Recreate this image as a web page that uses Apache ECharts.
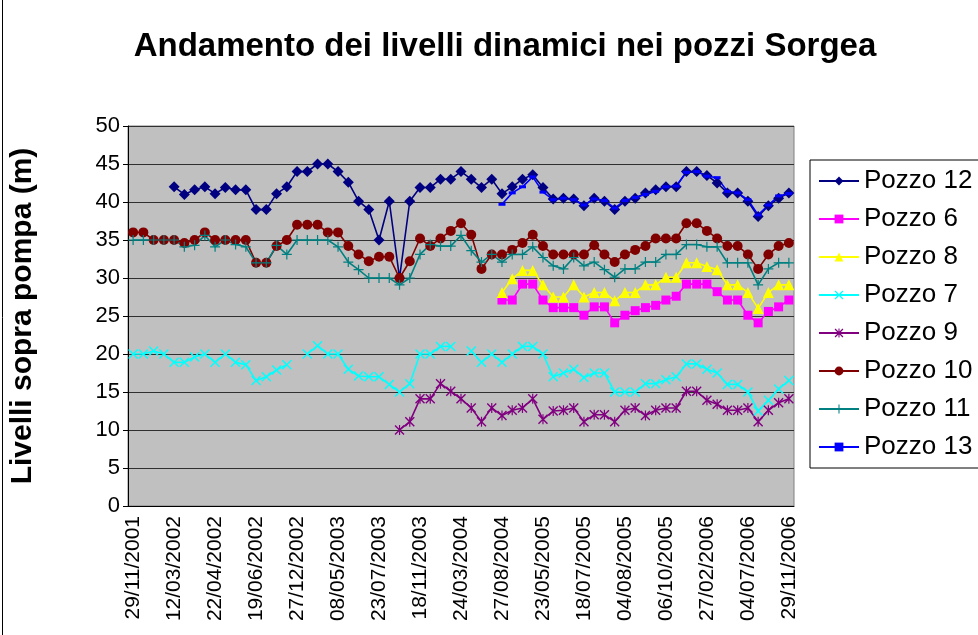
<!DOCTYPE html>
<html>
<head>
<meta charset="utf-8">
<script src="https://cdn.jsdelivr.net/npm/echarts@6/dist/echarts.min.js"></script>
<style>
	html, body { margin: 0; padding: 0; background: #fff; }
	#chart { width: 978px; height: 635px; }
</style>
</head>
<body>
<div id="chart"></div>
<script>
// date di misura (asse x)
const dates = [
	'29/11/2001', '14/12/2001', '18/01/2002', '20/02/2002', '12/03/2002', '25/03/2002', '04/04/2002', '15/04/2002',
	'22/04/2002', '08/05/2002', '22/05/2002', '05/06/2002', '19/06/2002', '17/07/2002', '25/09/2002', '30/10/2002',
	'27/12/2002', '30/01/2003', '27/02/2003', '27/03/2003', '08/05/2003', '29/05/2003', '19/06/2003', '04/07/2003',
	'23/07/2003', '06/08/2003', '10/09/2003', '20/10/2003', '18/11/2003', '16/12/2003', '20/01/2004', '24/02/2004',
	'24/03/2004', '28/04/2004', '26/05/2004', '30/06/2004', '27/08/2004', '29/10/2004', '21/12/2004', '16/03/2005',
	'23/05/2005', '09/06/2005', '23/06/2005', '05/07/2005', '18/07/2005', '22/07/2005', '26/07/2005', '29/07/2005',
	'04/08/2005', '24/08/2005', '08/09/2005', '22/09/2005', '06/10/2005', '10/11/2005', '15/12/2005', '24/01/2006',
	'27/02/2006', '28/03/2006', '27/04/2006', '30/05/2006', '04/07/2006', '28/07/2006', '06/09/2006', '18/10/2006',
	'29/11/2006'
]

const yTicks = [0, 5, 10, 15, 20, 25, 30, 35, 40, 45, 50]

const pozzo12 = [
	null, null, null, null, 42, 41, 41.6, 42, 41.1, 41.9, 41.6, 41.6, 39, 39, 41.1, 42,
	44, 44, 45, 45, 44, 42.6, 40.1, 39, 35, 40.1, 30, 40.1, 41.9, 41.9, 43, 43,
	44, 43, 41.9, 43, 41.1, 42, 43, 43.6, 41.9, 40.4, 40.5, 40.4, 39.5, 40.5, 40.1, 39,
	40.1, 40.5, 41.2, 41.6, 42, 42, 44, 44, 43.5, 42.5, 41.2, 41.2, 40.1, 38.1, 39.5, 40.5,
	41.2
]
const pozzo6 = [
	null, null, null, null, null, null, null, null, null, null, null, null, null, null, null, null,
	null, null, null, null, null, null, null, null, null, null, null, null, null, null, null, null,
	null, null, null, null, 27.1, 27.1, 29.2, 29.2, 27.1, 26.1, 26.1, 26.1, 25.1, 26.2, 26.2, 24.1,
	25.1, 25.7, 26.1, 26.4, 27.1, 27.6, 29.2, 29.2, 29.2, 28.2, 27.1, 27.1, 25.1, 24.1, 25.6, 26.2,
	27.1
]
const pozzo8 = [
	null, null, null, null, null, null, null, null, null, null, null, null, null, null, null, null,
	null, null, null, null, null, null, null, null, null, null, null, null, null, null, null, null,
	null, null, null, null, 28.1, 29.9, 31, 31, 29.1, 27.5, 27.5, 29.1, 27.5, 28.1, 28.1, 27,
	28.1, 28.1, 29.1, 29.1, 30.1, 30.1, 32, 32, 31.5, 31.1, 29.1, 29.1, 28.1, 26, 28.1, 29.1,
	29.1
]
const pozzo7 = [
	20, 20, 20.4, 20, 18.9, 18.9, 19.6, 20, 18.9, 20, 18.9, 18.6, 16.5, 17, 17.9, 18.6,
	null, 20, 21.1, 20, 20, 18, 17.1, 17, 17, 16, 15, 16.1, 20, 20, 21, 21,
	null, 20.4, 18.9, 20, 18.9, 20, 21, 21, 20, 17, 17.5, 18, 16.9, 17.5, 17.5, 15,
	15, 15, 16.1, 16.1, 16.6, 17, 18.7, 18.7, 18, 17.5, 16, 16, 15, 12.5, 13.9, 15.4,
	16.5
]
const pozzo9 = [
	null, null, null, null, null, null, null, null, null, null, null, null, null, null, null, null,
	null, null, null, null, null, null, null, null, null, null, 10, 11.1, 14.1, 14.1, 16.1, 15.1,
	14.1, 12.9, 11.1, 12.9, 11.9, 12.6, 12.9, 14.1, 11.4, 12.5, 12.6, 12.9, 11.1, 12, 12, 11.1,
	12.6, 12.9, 11.9, 12.6, 12.9, 12.9, 15.1, 15.1, 13.9, 13.4, 12.6, 12.6, 12.9, 11.1, 12.6, 13.6,
	14.1
]
const pozzo10 = [
	36, 36, 35, 35, 35, 34.6, 35, 36, 35, 35, 35, 35, 32, 32, 34.2, 35,
	37, 37, 37, 36, 36, 34.2, 33.1, 32.2, 32.8, 32.8, 30, 32.2, 35.2, 34.2, 35.2, 36.2,
	37.2, 35.7, 31.2, 33.1, 33.1, 33.7, 34.6, 35.7, 34.2, 33.1, 33.1, 33.1, 33.1, 34.3, 33.1, 32.1,
	33.1, 33.7, 34.2, 35.2, 35.2, 35.2, 37.2, 37.2, 36.2, 35.2, 34.2, 34.2, 33.1, 31.2, 33.1, 34.2,
	34.6
]
const pozzo11 = [
	35, 35, 35, 35, 35, 34.1, 34.3, 35.6, 34.1, 35, 34.4, 34.1, 32, 32, 34.3, 33.1,
	35, 35, 35, 35, 34.1, 32.1, 31.1, 30, 30, 30, 29.1, 30, 33.1, 34.4, 34.2, 34.2,
	35.6, 33.6, 32.1, 33.1, 32.1, 33.1, 33.1, 34.1, 32.7, 31.6, 31.2, 32.7, 31.6, 32.1, 31.1, 30.1,
	31.2, 31.2, 32.1, 32.1, 33.1, 33.1, 34.4, 34.4, 34.1, 34.1, 32, 32, 32, 29.1, 31.2, 32,
	32
]
const pozzo13 = [
	null, null, null, null, null, null, null, null, null, null, null, null, null, null, null, null,
	null, null, null, null, null, null, null, null, null, null, null, null, null, null, null, null,
	null, null, null, null, 39.7, 41.2, 42, 43.3, 41.3, 40.3, 40.5, 40.3, 39.6, 40.4, 40.2, 39.2,
	40.2, 40.6, 41, 41.4, 42, 42.1, 43.9, 44, 43.4, 43.2, 41.4, 41.2, 40.3, 38.3, 39.6, 40.8,
	41.1
]

// simboli tipo Excel
const symX = 'path://M0,1L1,0L5,4L9,0L10,1L6,5L10,9L9,10L5,6L1,10L0,9L4,5Z'
const symPlus = 'path://M4.4,0H5.6V4.4H10V5.6H5.6V10H4.4V5.6H0V4.4H4.4Z'
const symStar = 'path://M0,1L1,0L5,4L9,0L10,1L6,5L10,9L9,10L5,6L1,10L0,9L4,5Z M4.4,0H5.6V10H4.4Z'

const font = 'Arial, "Liberation Sans", sans-serif'

function serie(name, data, color, symbol, size) {
	return {
		type: 'line',
		name: name,
		data: data,
		symbol: symbol,
		symbolSize: size,
		showAllSymbol: true,
		connectNulls: false,
		lineStyle: { color: color, width: 1.6 },
		itemStyle: { color: color },
		emphasis: { disabled: true }
	}
}

echarts.init(document.getElementById('chart')).setOption({
	animation: false,
	backgroundColor: '#fff',
	graphic: [{
		type: 'line',
		shape: { x1: 2.5, y1: 0, x2: 2.5, y2: 635 },
		style: { stroke: '#000', lineWidth: 1 }
	}],
	title: {
		text: 'Andamento dei livelli dinamici nei pozzi Sorgea',
		left: 500,
		top: 25,
		textAlign: 'center',
		textStyle: { fontFamily: font, fontSize: 33, fontWeight: 'bold', color: '#000' }
	},
	grid: {
		left: 126,
		top: 126,
		right: 184,
		bottom: 129,
		show: true,
		backgroundColor: '#c0c0c0',
		borderColor: '#808080',
		borderWidth: 1
	},
	legend: {
		orient: 'vertical',
		left: 810,
		top: 160,
		padding: [8, 20, 8, 8],
		itemGap: 12,
		itemWidth: 40,
		itemHeight: 11,
		backgroundColor: '#fff',
		borderColor: '#000',
		borderWidth: 1,
		borderRadius: 0,
		textStyle: { fontFamily: font, fontSize: 26, color: '#000' },
		data: ['Pozzo 12', 'Pozzo 6', 'Pozzo 8', 'Pozzo 7', 'Pozzo 9', 'Pozzo 10', 'Pozzo 11', 'Pozzo 13']
	},
	xAxis: {
		type: 'category',
		data: dates,
		boundaryGap: true,
		axisLine: { lineStyle: { color: '#000', width: 1 } },
		axisTick: { interval: 0, length: 5, lineStyle: { color: '#000' } },
		axisLabel: {
			interval: 3,
			rotate: 90,
			margin: 10,
			fontFamily: font,
			fontSize: 21,
			color: '#000'
		},
		splitLine: { show: false }
	},
	yAxis: {
		type: 'value',
		min: yTicks[0],
		max: yTicks[yTicks.length - 1],
		interval: 5,
		name: 'Livelli sopra pompa (m)',
		nameLocation: 'middle',
		nameRotate: 90,
		nameGap: 90,
		nameTextStyle: { fontFamily: font, fontSize: 30, fontWeight: 'bold', color: '#000' },
		axisLine: { show: true, lineStyle: { color: '#000', width: 1 } },
		axisTick: { show: true, length: 5, lineStyle: { color: '#000' } },
		axisLabel: { fontFamily: font, fontSize: 22, color: '#000', margin: 8 },
		splitLine: { lineStyle: { color: '#303030', width: 1 } }
	},
	series: [
		serie('Pozzo 12', pozzo12, '#000080', 'diamond', 11),
		serie('Pozzo 6', pozzo6, '#ff00ff', 'rect', 9),
		serie('Pozzo 8', pozzo8, '#ffff00', 'triangle', 11),
		serie('Pozzo 7', pozzo7, '#00ffff', symX, 10),
		serie('Pozzo 9', pozzo9, '#800080', symStar, 10),
		serie('Pozzo 10', pozzo10, '#800000', 'circle', 10),
		serie('Pozzo 11', pozzo11, '#008080', symPlus, 10),
		serie('Pozzo 13', pozzo13, '#0000ff', 'rect', [7, 3])
	]
})
</script>
</body>
</html>
